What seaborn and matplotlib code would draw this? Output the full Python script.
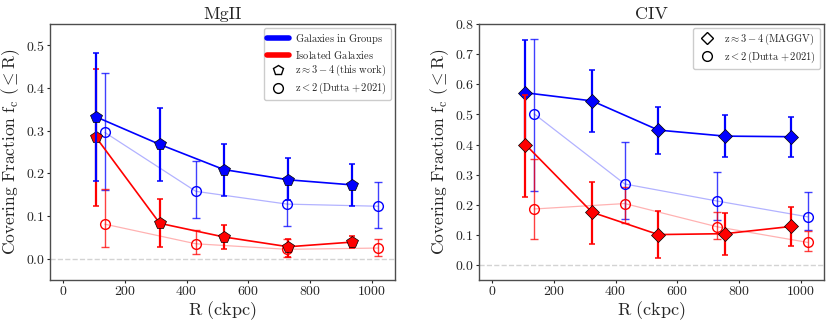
import matplotlib
matplotlib.use("Agg")
import matplotlib.pyplot as plt
from matplotlib.colors import to_rgba
from matplotlib.lines import Line2D
import seaborn as sns

# --- MgII: this work (z ~ 3-4) ---
r_mg = [105, 313, 521, 730, 938]
grp_mg = [0.333, 0.268, 0.209, 0.185, 0.173]
grp_mg_lo = [0.183, 0.183, 0.148, 0.137, 0.123]
grp_mg_hi = [0.483, 0.354, 0.270, 0.237, 0.221]
iso_mg = [0.286, 0.083, 0.051, 0.028, 0.039]
iso_mg_lo = [0.124, 0.027, 0.022, 0.005, 0.024]
iso_mg_hi = [0.445, 0.140, 0.079, 0.046, 0.054]

# --- MgII: Dutta+2021 (z < 2) ---
r_dmg = [135, 430, 726, 1022]
dgrp_mg = [0.296, 0.158, 0.128, 0.123]
dgrp_mg_lo = [0.162, 0.095, 0.077, 0.073]
dgrp_mg_hi = [0.435, 0.229, 0.190, 0.180]
diso_mg = [0.081, 0.035, 0.022, 0.025]
diso_mg_lo = [0.027, 0.011, 0.005, 0.007]
diso_mg_hi = [0.163, 0.067, 0.046, 0.046]

# --- CIV: MAGG (z ~ 3-4) ---
r_civ = [108, 324, 539, 755, 970]
grp_civ = [0.572, 0.545, 0.448, 0.428, 0.426]
grp_civ_lo = [0.400, 0.443, 0.368, 0.360, 0.360]
grp_civ_hi = [0.746, 0.648, 0.526, 0.498, 0.492]
iso_civ = [0.400, 0.175, 0.101, 0.104, 0.128]
iso_civ_lo = [0.225, 0.070, 0.022, 0.034, 0.063]
iso_civ_hi = [0.565, 0.277, 0.179, 0.174, 0.194]

# --- CIV: Dutta+2021 (z < 2) ---
r_dciv = [136, 430, 729, 1023]
dgrp_civ = [0.502, 0.269, 0.2125, 0.160]
dgrp_civ_lo = [0.247, 0.153, 0.150, 0.115]
dgrp_civ_hi = [0.749, 0.409, 0.309, 0.243]
diso_civ = [0.186, 0.204, 0.127, 0.075]
diso_civ_lo = [0.085, 0.140, 0.086, 0.045]
diso_civ_hi = [0.352, 0.260, 0.177, 0.113]

sns.set_style("ticks")
plt.rcParams['font.family'] = ['cmr10', 'DejaVu Sans']
plt.rcParams['mathtext.fontset'] = 'cm'
plt.rcParams['axes.formatter.use_mathtext'] = True
plt.rcParams['axes.unicode_minus'] = False


def yerr(v, lo, hi):
    return [[a - b for a, b in zip(v, lo)], [c - a for a, c in zip(v, hi)]]


def draw_dutta(ax, r, v, lo, hi, color):
    sns.lineplot(x=r, y=v, ax=ax, color=color, alpha=0.3, lw=0.9, sort=False, zorder=2)
    ax.errorbar(r, v, yerr=yerr(v, lo, hi), fmt='o', ms=7, mfc='none', mec=color, mew=1,
                ecolor=to_rgba(color, 0.75), elinewidth=1, capsize=2.8, capthick=1, zorder=3)


def draw_main(ax, r, v, lo, hi, color, marker, ms, z):
    ax.errorbar(r, v, yerr=yerr(v, lo, hi), fmt='none', ecolor=color,
                elinewidth=1.6, capsize=2.5, capthick=1.1, zorder=z)
    sns.lineplot(x=r, y=v, ax=ax, color=color, lw=1.2, marker=marker, markersize=ms,
                 markeredgecolor='k', markeredgewidth=0.5, sort=False, zorder=z + 1)


fig = plt.figure(figsize=(8.3, 3.26), dpi=100)
ax1 = fig.add_axes([0.0602, 0.141, 0.4157, 0.785])
ax2 = fig.add_axes([0.577, 0.141, 0.4157, 0.785])

# MgII panel
draw_dutta(ax1, r_dmg, dgrp_mg, dgrp_mg_lo, dgrp_mg_hi, 'blue')
draw_dutta(ax1, r_dmg, diso_mg, diso_mg_lo, diso_mg_hi, 'red')
draw_main(ax1, r_mg, iso_mg, iso_mg_lo, iso_mg_hi, 'red', 'p', 8.5, 4)
draw_main(ax1, r_mg, grp_mg, grp_mg_lo, grp_mg_hi, 'blue', 'p', 8.5, 6)

# CIV panel
draw_dutta(ax2, r_dciv, dgrp_civ, dgrp_civ_lo, dgrp_civ_hi, 'blue')
draw_dutta(ax2, r_dciv, diso_civ, diso_civ_lo, diso_civ_hi, 'red')
draw_main(ax2, r_civ, grp_civ, grp_civ_lo, grp_civ_hi, 'blue', 'D', 7, 4)
draw_main(ax2, r_civ, iso_civ, iso_civ_lo, iso_civ_hi, 'red', 'D', 7, 6)

for ax, title, ylim in [(ax1, 'MgII', (-0.05, 0.55)), (ax2, 'CIV', (-0.05, 0.8))]:
    ax.axhline(0, color='lightgrey', ls='--', lw=1, zorder=1)
    ax.set_xlim(-43, 1076)
    ax.set_ylim(*ylim)
    ax.set_title(title, fontsize=13, pad=4)
    ax.set_xlabel(r'$\mathrm{R\ (ckpc)}$', fontsize=13, labelpad=1)
    ax.set_ylabel(r'$\mathrm{Covering\ Fraction\ f_c\ (\leq R)}$', fontsize=12.5, labelpad=2.5)
    ax.tick_params(labelsize=10, length=2, width=0.8, pad=1.5)
    for s in ax.spines.values():
        s.set_linewidth(1)
        s.set_color('0.3')

ax1.set_yticks([0.0, 0.1, 0.2, 0.3, 0.4, 0.5])
ax2.set_yticks([0.0, 0.1, 0.2, 0.3, 0.4, 0.5, 0.6, 0.7, 0.8])

h1 = [Line2D([], [], color='blue', lw=4),
      Line2D([], [], color='red', lw=4),
      Line2D([], [], ls='none', marker='p', ms=7, mfc='white', mec='k', mew=1),
      Line2D([], [], ls='none', marker='o', ms=7, mfc='white', mec='k', mew=1)]
l1 = [r'$\mathrm{Galaxies\ in\ Groups}$', r'$\mathrm{Isolated\ Galaxies}$',
      r'$\mathrm{z \approx 3-4\,(this\ work)}$', r'$\mathrm{z < 2\,(Dutta+2021)}$']
ax1.legend(h1, l1, loc='upper right', fontsize=7.5, handlelength=2.1, framealpha=1,
           borderpad=0.35, labelspacing=0.25, handletextpad=0.6, borderaxespad=0.4)

h2 = [Line2D([], [], ls='none', marker='D', ms=6, mfc='white', mec='k', mew=1),
      Line2D([], [], ls='none', marker='o', ms=7, mfc='white', mec='k', mew=1)]
l2 = [r'$\mathrm{z \approx 3-4\,(MAGGV)}$', r'$\mathrm{z < 2\,(Dutta+2021)}$']
ax2.legend(h2, l2, loc='upper right', fontsize=7.5, handlelength=2.1, framealpha=1,
           borderpad=0.35, labelspacing=0.25, handletextpad=0.6, borderaxespad=0.4)

fig.savefig('out.png', dpi=100)
